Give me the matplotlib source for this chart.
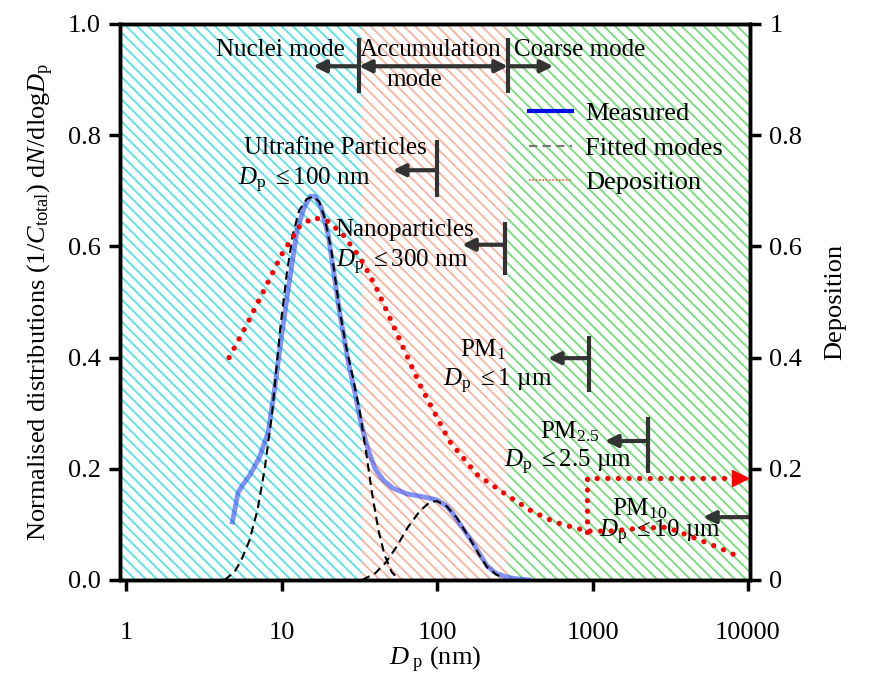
import matplotlib
matplotlib.use("Agg")
import matplotlib.pyplot as plt
from matplotlib.lines import Line2D

plt.rcParams['font.family'] = ['Liberation Serif', 'DejaVu Serif']
plt.rcParams['mathtext.fontset'] = 'custom'
plt.rcParams['mathtext.rm'] = 'Liberation Serif'
plt.rcParams['mathtext.it'] = 'Liberation Serif:italic'
plt.rcParams['mathtext.bf'] = 'Liberation Serif:bold'
plt.rcParams['hatch.linewidth'] = 1.4

# ---------------- data ----------------
meas_x = [4.8, 5.25, 5.6, 6.3, 7.2, 8.2, 9.0, 9.8, 11, 12.6, 14, 15.3, 16.5, 18, 20,
          23.7, 27, 30, 32, 34, 36, 40, 45, 52, 64, 80, 100, 115, 126, 145, 170,
          190, 210, 240, 282, 330, 400]
meas_y = [0.10, 0.157, 0.17, 0.19, 0.22, 0.265, 0.34, 0.42, 0.52, 0.63, 0.67, 0.69,
          0.69, 0.67, 0.62, 0.48, 0.39, 0.33, 0.29, 0.26, 0.235, 0.20, 0.18, 0.165,
          0.155, 0.15, 0.144, 0.133, 0.12, 0.095, 0.067, 0.045, 0.025, 0.012, 0.005,
          0.002, 0.0]

mode1_x = [4.3, 5.0, 5.5, 6.2, 7.0, 7.8, 8.7, 9.8, 10.8, 11.8, 13, 14.5, 16, 17.5,
           19, 21, 23.5, 26, 29, 32, 35, 38, 42, 46, 51, 57]
mode1_y = [0.0, 0.015, 0.035, 0.07, 0.125, 0.2, 0.30, 0.45, 0.55, 0.62, 0.665, 0.685,
           0.69, 0.68, 0.65, 0.59, 0.49, 0.42, 0.36, 0.30, 0.23, 0.16, 0.09, 0.045,
           0.015, 0.0]

mode2_x = [33, 40, 47, 55, 65, 78, 90, 100, 115, 134, 150, 170, 190, 210, 240, 270]
mode2_y = [0.0, 0.012, 0.032, 0.06, 0.095, 0.125, 0.14, 0.142, 0.133, 0.112, 0.09,
           0.065, 0.042, 0.023, 0.01, 0.003]

dep_x = [4.6, 6, 8, 10, 13, 16, 20, 25, 32, 40, 58, 78, 120, 180, 280, 400, 560, 700,
         920, 1300, 2000, 3000, 4400, 6500, 9000]
dep_y = [0.40, 0.46, 0.53, 0.585, 0.635, 0.652, 0.645, 0.62, 0.58, 0.53, 0.43, 0.35,
         0.25, 0.19, 0.153, 0.125, 0.105, 0.097, 0.088, 0.088, 0.093, 0.095, 0.077,
         0.058, 0.04]

pm10_step_x = [922, 922, 8900]
pm10_step_y = [0.087, 0.184, 0.184]

# mode regions (nm)
region_edges = [0.915, 33, 285, 10300]
region_colors = ['#5fe3e6', '#f3b9a6', '#7fdc84']

xticks = [1, 10, 100, 1000, 10000]
xticklabels = ['1', '10', '100', '1000', '10000']
yticks = [0.0, 0.2, 0.4, 0.6, 0.8, 1.0]
yticklabels_left = ['0.0', '0.2', '0.4', '0.6', '0.8', '1.0']
yticklabels_right = ['0', '0.2', '0.4', '0.6', '0.8', '1']

# ---------------- figure ----------------
fig = plt.figure(figsize=(8.91, 6.77), dpi=100)
ax = fig.add_axes([120/891, 1-580/677, 630/891, 556/677])
ax.set_xscale('log')
ax.set_xlim(0.915, 10300)
ax.set_ylim(0, 1)

for i, c in enumerate(region_colors):
    ax.axvspan(region_edges[i], region_edges[i+1], facecolor='white', edgecolor=c,
               hatch='\\\\\\', linewidth=0, zorder=0)

ax.plot(meas_x, meas_y, color='#2d48f0', alpha=0.6, lw=3.5, solid_capstyle='butt', zorder=3)
ax.plot(mode1_x, mode1_y, color='black', lw=1.5, ls=(0, (4, 2.5)), zorder=4)
ax.plot(mode2_x, mode2_y, color='black', lw=1.5, ls=(0, (4, 2.5)), zorder=4)

ax2 = ax.twinx()
ax2.set_ylim(0, 1)
dot = dict(color='red', lw=3.8, ls=(0, (0.01, 2.0)), dash_capstyle='round')
ax2.plot(dep_x, dep_y, **dot)
ax2.plot(pm10_step_x, pm10_step_y, **dot)
ax2.plot(pm10_step_x[-1:], pm10_step_y[-1:], marker='>', color='red', ms=11, ls='none')

# ---------------- axes styling ----------------
for a in (ax, ax2):
    for s in a.spines.values():
        s.set_linewidth(2.5)
ax.set_xticks(xticks)
ax.set_xticklabels(xticklabels)
ax.xaxis.set_minor_locator(matplotlib.ticker.NullLocator())
ax.set_yticks(yticks)
ax.set_yticklabels(yticklabels_left)
ax2.set_yticks(yticks)
ax2.set_yticklabels(yticklabels_right)
ax.tick_params(axis='both', which='major', direction='out', length=8, width=2.5,
               labelsize=19, pad=6)
ax2.tick_params(axis='y', direction='out', length=8, width=2.5, labelsize=19, pad=6)
ax.tick_params(axis='x', pad=22)

ax.set_xlabel(r'$\mathit{D}_{\mathrm{\ p}}$ (nm)', fontsize=19, labelpad=1)
ax.set_ylabel(r'Normalised distributions (1/$\mathit{C}_{\mathrm{total}}$) d$\mathit{N}$/dlog$\mathit{D}_{\mathrm{p}}$',
              fontsize=19, labelpad=8)
ax2.set_ylabel('Deposition', fontsize=19, rotation=90, labelpad=16)

# ---------------- annotations ----------------
TS = 18
AC = '#333333'

def arrow(x0, x1, y, both=False):
    ax.annotate('', xy=(x1, y), xytext=(x0, y),
                arrowprops=dict(arrowstyle='<|-|>' if both else '-|>', lw=3,
                                color=AC, mutation_scale=18, shrinkA=0, shrinkB=0),
                zorder=6)

def bar(x, y0, y1):
    ax.plot([x, x], [y0, y1], color=AC, lw=3, zorder=6, solid_capstyle='butt')

# mode boundaries
bar(31.5, 0.876, 0.975)
bar(286, 0.876, 0.975)
arrow(31.5, 16.0, 0.924)
arrow(31.5, 286, 0.924, both=True)
arrow(286, 560, 0.924)
ax.text(9.8, 0.953, 'Nuclei mode', fontsize=TS, ha='center', va='center')
ax.text(91.5, 0.953, 'Accumulation', fontsize=TS, ha='center', va='center')
ax.text(72, 0.899, 'mode', fontsize=TS, ha='center', va='center')
ax.text(831, 0.953, 'Coarse mode', fontsize=TS, ha='center', va='center')

# size classes
bar(100, 0.689, 0.791)
arrow(100, 52, 0.737)
ax.text(22.1, 0.777, 'Ultrafine Particles', fontsize=TS, ha='center', va='center')
ax.text(13.9, 0.719, r'$\mathit{D}_{\mathrm{p}}$ $\leq$100 nm', fontsize=TS, ha='center', va='center')

bar(274, 0.549, 0.644)
arrow(274, 145, 0.603)
ax.text(62, 0.629, 'Nanoparticles', fontsize=TS, ha='center', va='center')
ax.text(60, 0.572, r'$\mathit{D}_{\mathrm{p}}$ $\leq$300 nm', fontsize=TS, ha='center', va='center')

bar(950, 0.338, 0.439)
arrow(950, 517, 0.399)
ax.text(198, 0.414, r'PM$_{1}$', fontsize=TS, ha='center', va='center')
ax.text(247, 0.358, r'$\mathit{D}_{\mathrm{p}}$ $\leq$1 µm', fontsize=TS, ha='center', va='center')

bar(2275, 0.192, 0.293)
arrow(2275, 1203, 0.25)
ax.text(717, 0.266, r'PM$_{2.5}$', fontsize=TS, ha='center', va='center')
ax.text(700, 0.212, r'$\mathit{D}_{\mathrm{p}}$ $\leq$2.5 µm', fontsize=TS, ha='center', va='center')

arrow(10000, 5140, 0.113)
ax.text(2020, 0.129, r'PM$_{10}$', fontsize=TS, ha='center', va='center')
ax.text(2717, 0.086, r'$\mathit{D}_{\mathrm{p}}$ $\leq$10 µm', fontsize=TS, ha='center', va='center')

# ---------------- legend ----------------
handles = [Line2D([], [], color='#0010e0', lw=3),
           Line2D([], [], color='#777777', lw=1.5, ls=(0, (4, 2.5))),
           Line2D([], [], color='#f06030', lw=1.2, ls=(0, (1, 1)))]
labels = ['Measured', 'Fitted modes', 'Deposition']
leg = ax2.legend(handles, labels, loc='upper left', bbox_to_anchor=(0.633, 0.879),
                 frameon=False, fontsize=19, handlelength=1.6, handletextpad=0.5,
                 labelspacing=0.42, borderaxespad=0)

fig.savefig('out.png', dpi=100)
